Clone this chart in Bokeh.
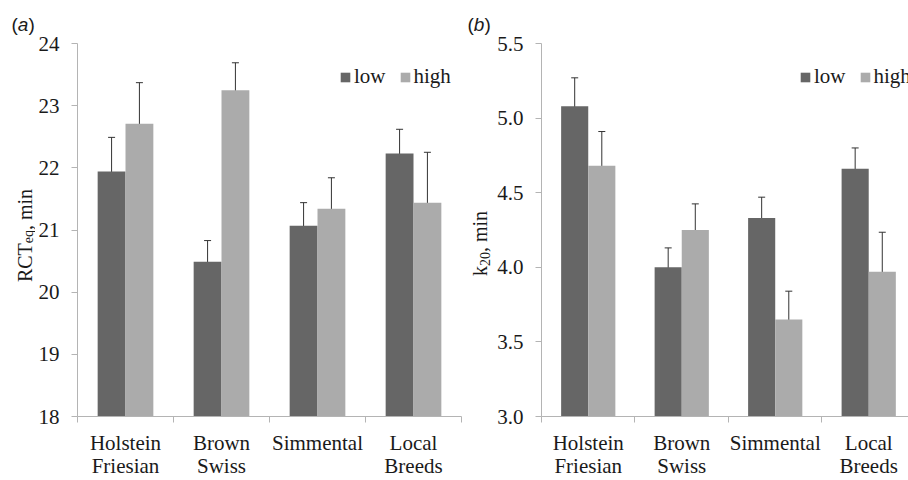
import math
from bokeh.plotting import figure
from bokeh.models import (ColumnDataSource, Whisker, TeeHead, FixedTicker, Legend,
                          LegendItem, Label, Range1d)
from bokeh.layouts import row
from bokeh.embed import file_html
from bokeh.resources import INLINE

# ---------------- data ----------------
breeds = ["Holstein\nFriesian", "Brown\nSwiss", "Simmental", "Local\nBreeds"]
groups = ["low", "high"]

rct_low = [21.94, 20.49, 21.07, 22.23]
rct_low_err = [0.55, 0.34, 0.37, 0.39]
rct_high = [22.71, 23.25, 21.34, 21.44]
rct_high_err = [0.66, 0.44, 0.50, 0.81]

k20_low = [5.08, 4.00, 4.33, 4.66]
k20_low_err = [0.19, 0.13, 0.14, 0.14]
k20_high = [4.68, 4.25, 3.65, 3.97]
k20_high_err = [0.23, 0.175, 0.19, 0.265]

rct_ticks = [18, 19, 20, 21, 22, 23, 24]
rct_tick_labels = ["18", "19", "20", "21", "22", "23", "24"]
k20_ticks = [3.0, 3.5, 4.0, 4.5, 5.0, 5.5]
k20_tick_labels = ["3.0", "3.5", "4.0", "4.5", "5.0", "5.5"]

LOW_COLOR = "#666666"
HIGH_COLOR = "#ababab"
ERR_COLOR = "#333333"
AXIS_COLOR = "#b4b4b4"
TEXT_COLOR = "#1a1a1a"
SERIF = "Liberation Serif"
SANS = "Liberation Sans"
H = 480

# approximate Times advance widths (em) for label composition
TW = {"R": 0.667, "C": 0.667, "T": 0.611, "e": 0.444, "q": 0.5, ",": 0.25, " ": 0.25,
      "m": 0.778, "i": 0.278, "n": 0.5, "k": 0.5, "2": 0.5, "0": 0.5}


def tw(s, size):
    return sum(TW.get(c, 0.5) for c in s) * size


def title_strip(width, letter, letter_x, label_parts, label_center):
    """Narrow figure holding the panel letter and the rotated y-axis title."""
    t = figure(width=width, height=H, x_axis_type=None, y_axis_type=None,
               output_backend="svg", toolbar_location=None, min_border=0,
               x_range=Range1d(0, 1), y_range=Range1d(0, 1))
    t.frame_align = False
    t.outline_line_color = None
    t.xgrid.visible = False
    t.ygrid.visible = False
    fs = 19
    pieces = [("(", "normal", 0.0), (letter, "italic", 0.333 * fs),
              (")", "normal", 0.333 * fs + 0.556 * fs)]
    for txt, style, dx in pieces:
        t.add_layout(Label(x=letter_x + dx, y=H - 24, x_units="screen", y_units="screen",
                           text=txt, text_font=SANS, text_font_size=f"{fs}px",
                           text_font_style=style, text_color=TEXT_COLOR,
                           text_align="left", text_baseline="middle"))
    total = sum(tw(s, size) for s, size, _ in label_parts)
    ypos = (H - label_center) - total / 2
    for txt, size, mid_x in label_parts:
        t.add_layout(Label(x=mid_x, y=ypos, x_units="screen", y_units="screen",
                           text=txt, angle=math.pi / 2, text_font=SERIF,
                           text_font_size=f"{size}px", text_color=TEXT_COLOR,
                           text_align="left", text_baseline="middle"))
        ypos += tw(txt, size)
    return t


def panel(low, low_err, high, high_err, yticks, ylabels,
          width, border_left, border_right, xmax, legend_x):
    n = len(breeds)
    centers = [i + 0.5 for i in range(n)]
    bw = 0.29
    off = 0.145
    p = figure(width=width, height=H, x_range=Range1d(0, xmax),
               y_range=Range1d(yticks[0], yticks[-1]),
               output_backend="svg", toolbar_location=None,
               min_border_left=border_left, min_border_right=border_right,
               min_border_top=43, min_border_bottom=59)
    p.frame_align = False
    p.outline_line_color = None
    p.xgrid.visible = False
    p.ygrid.visible = False
    p.background_fill_color = "white"
    p.border_fill_color = "white"

    src_low = ColumnDataSource(dict(
        x=[c - off for c in centers], top=low,
        upper=[v + e for v, e in zip(low, low_err)],
        lower=[v - e for v, e in zip(low, low_err)]))
    src_high = ColumnDataSource(dict(
        x=[c + off for c in centers], top=high,
        upper=[v + e for v, e in zip(high, high_err)],
        lower=[v - e for v, e in zip(high, high_err)]))

    r_low = p.vbar(x="x", top="top", bottom=yticks[0] - 10, width=bw, source=src_low,
                   fill_color=LOW_COLOR, line_color=None)
    r_high = p.vbar(x="x", top="top", bottom=yticks[0] - 10, width=bw, source=src_high,
                    fill_color=HIGH_COLOR, line_color=None)

    for s in (src_low, src_high):
        w = Whisker(source=s, base="x", upper="upper", lower="lower",
                    line_color=ERR_COLOR, line_width=1,
                    upper_head=TeeHead(size=7, line_color=ERR_COLOR, line_width=1),
                    lower_head=TeeHead(size=7, line_color=ERR_COLOR, line_width=1))
        p.add_layout(w)

    # x axis: labels at category centres, ticks at category boundaries
    xa = p.xaxis[0]
    xa.ticker = FixedTicker(ticks=centers, minor_ticks=list(range(n + 1)))
    xa.major_label_overrides = {c: b for c, b in zip(centers, breeds)}
    xa.major_tick_out = 0
    xa.major_tick_in = 0
    xa.minor_tick_out = 6
    xa.minor_tick_in = 0
    xa.minor_tick_line_color = AXIS_COLOR
    xa.axis_line_color = AXIS_COLOR
    xa.major_label_text_font = SERIF
    xa.major_label_text_font_size = "21px"
    xa.major_label_text_color = TEXT_COLOR
    xa.major_label_text_line_height = 0.96
    xa.major_label_standoff = 8

    ya = p.yaxis[0]
    ya.ticker = FixedTicker(ticks=yticks, minor_ticks=[])
    ya.major_label_overrides = {t: l for t, l in zip(yticks, ylabels)}
    ya.major_tick_out = 6
    ya.major_tick_in = 0
    ya.minor_tick_out = 0
    ya.minor_tick_in = 0
    ya.major_tick_line_color = AXIS_COLOR
    ya.axis_line_color = AXIS_COLOR
    ya.major_label_text_font = SERIF
    ya.major_label_text_font_size = "21px"
    ya.major_label_text_color = TEXT_COLOR
    ya.major_label_standoff = 12

    legend = Legend(items=[LegendItem(label=groups[0], renderers=[r_low]),
                           LegendItem(label=groups[1], renderers=[r_high])],
                    location=(legend_x, 327), orientation="horizontal",
                    glyph_width=12, glyph_height=12, label_standoff=3, spacing=13,
                    padding=0, margin=0, label_text_font=SERIF,
                    label_text_font_size="21px", label_text_color=TEXT_COLOR,
                    background_fill_alpha=0, border_line_alpha=0)
    p.add_layout(legend)
    return p


# label parts: (text, font size, x of the text's middle line inside the strip)
ta = title_strip(35, "a", 11, [("RCT", 20, 24), ("eq", 14, 28), (", min", 20, 24)],
                 label_center=235)
pa = panel(rct_low, rct_low_err, rct_high, rct_high_err, rct_ticks, rct_tick_labels,
           width=427, border_left=42, border_right=1, xmax=4.0, legend_x=262)
tb = title_strip(32, "b", 5, [("k", 20, 17), ("20", 14, 22), (", min", 20, 17)],
                 label_center=243)
pb = panel(k20_low, k20_low_err, k20_high, k20_high_err, k20_ticks, k20_tick_labels,
           width=414, border_left=45, border_right=0, xmax=369 / 94, legend_x=258)

layout = row(ta, pa, tb, pb)
open("out.html", "w").write(file_html(layout, INLINE))
